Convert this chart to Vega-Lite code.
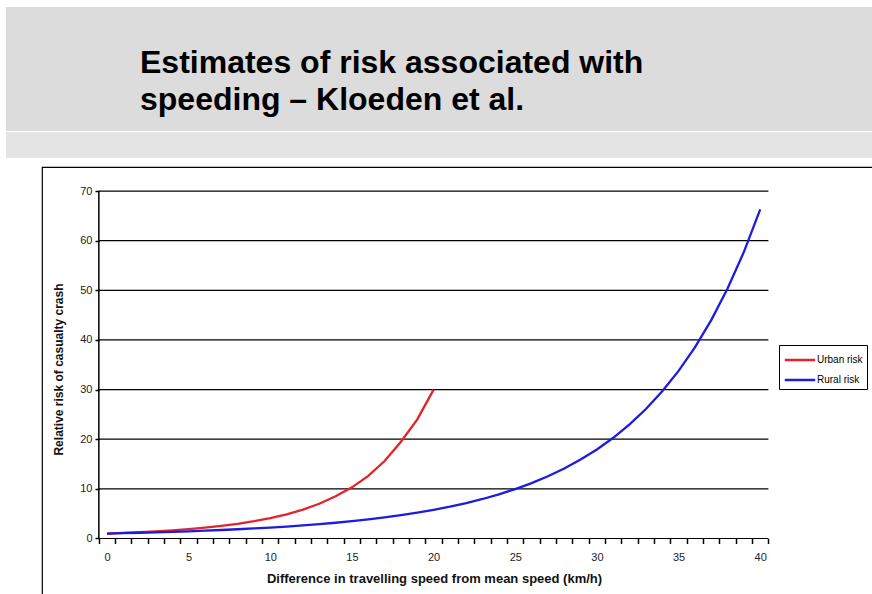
{
  "$schema": "https://vega.github.io/schema/vega-lite/v6.json",
  "padding": {"left": 6, "top": 7, "right": 0, "bottom": 0},
  "background": "white",
  "config": {"font": "Liberation Sans", "view": {"stroke": null}},
  "spacing": 8,
  "resolve": {"legend": {"color": "independent"}},
  "vconcat": [
    {
      "spacing": 1,
      "vconcat": [
        {
          "width": 866,
          "height": 124,
          "view": {"fill": "#dcdcdc", "stroke": null},
          "data": {"values": []},
          "mark": "point",
          "title": {
            "text": ["Estimates of risk associated with", "speeding – Kloeden et al."],
            "orient": "top",
            "anchor": "start",
            "frame": "group",
            "offset": -135,
            "dx": 134,
            "fontSize": 32,
            "fontWeight": "bold",
            "lineHeight": 37,
            "baseline": "alphabetic",
            "color": "#000000",
            "font": "Liberation Sans"
          }
        },
        {
          "width": 866,
          "height": 26,
          "view": {"fill": "#e4e4e4", "stroke": null},
          "data": {"values": []},
          "mark": "point"
        }
      ]
    },
    {
      "spacing": 0,
      "resolve": {"legend": {"color": "independent"}},
      "hconcat": [
        {
          "width": 35,
          "height": 10,
          "data": {"values": []},
          "mark": "point"
        },
        {
          "width": 835,
          "height": 440,
          "view": {"fill": "white", "stroke": "black", "strokeWidth": 1.2},
          "resolve": {"axis": {"x": "independent"}},
          "layer": [
            {
              "data": {"values": [{"v": 0}, {"v": 10}, {"v": 20}, {"v": 30}, {"v": 40}, {"v": 50}, {"v": 60}, {"v": 70}]},
              "mark": {"type": "rule", "color": "#000000", "strokeWidth": 1.2},
              "encoding": {
                "x": {
                  "datum": -0.5,
                  "type": "quantitative",
                  "scale": {"domain": [-3.98, 47.15], "nice": false, "zero": false},
                  "axis": {
                    "orient": "bottom",
                    "offset": -68.5,
                    "values": [-0.5, 0.5, 1.5, 2.5, 3.5, 4.5, 5.5, 6.5, 7.5, 8.5, 9.5, 10.5, 11.5, 12.5, 13.5, 14.5, 15.5, 16.5, 17.5, 18.5, 19.5, 20.5, 21.5, 22.5, 23.5, 24.5, 25.5, 26.5, 27.5, 28.5, 29.5, 30.5, 31.5, 32.5, 33.5, 34.5, 35.5, 36.5, 37.5, 38.5, 39.5, 40.5],
                    "labels": false,
                    "tickSize": 5,
                    "tickWidth": 1.5,
                    "tickColor": "#000000",
                    "domain": false,
                    "grid": false,
                    "title": null
                  }
                },
                "x2": {"datum": 40.5},
                "y": {"field": "v", "type": "quantitative", "scale": {"domain": [-13.8, 74.84], "nice": false, "zero": false}}
              }
            },
            {
              "data": {"values": [{}]},
              "mark": {"type": "rule", "color": "#000000", "strokeWidth": 1.5},
              "encoding": {
                "x": {"datum": -0.5, "type": "quantitative", "scale": {"domain": [-3.98, 47.15], "nice": false, "zero": false}, "axis": null},
                "y": {"datum": 0, "type": "quantitative", "scale": {"domain": [-13.8, 74.84], "nice": false, "zero": false}},
                "y2": {"datum": 70}
              }
            },
            {
              "data": {
                "values": [
                  {"series": "Urban risk", "speed": 0, "risk": 1},
                  {"series": "Urban risk", "speed": 1, "risk": 1.12},
                  {"series": "Urban risk", "speed": 2, "risk": 1.27},
                  {"series": "Urban risk", "speed": 3, "risk": 1.44},
                  {"series": "Urban risk", "speed": 4, "risk": 1.65},
                  {"series": "Urban risk", "speed": 5, "risk": 1.89},
                  {"series": "Urban risk", "speed": 6, "risk": 2.18},
                  {"series": "Urban risk", "speed": 7, "risk": 2.54},
                  {"series": "Urban risk", "speed": 8, "risk": 2.96},
                  {"series": "Urban risk", "speed": 9, "risk": 3.48},
                  {"series": "Urban risk", "speed": 10, "risk": 4.11},
                  {"series": "Urban risk", "speed": 11, "risk": 4.88},
                  {"series": "Urban risk", "speed": 12, "risk": 5.83},
                  {"series": "Urban risk", "speed": 13, "risk": 7.0},
                  {"series": "Urban risk", "speed": 14, "risk": 8.5},
                  {"series": "Urban risk", "speed": 15, "risk": 10.3},
                  {"series": "Urban risk", "speed": 16, "risk": 12.6},
                  {"series": "Urban risk", "speed": 17, "risk": 15.6},
                  {"series": "Urban risk", "speed": 18, "risk": 19.5},
                  {"series": "Urban risk", "speed": 19, "risk": 24.0},
                  {"series": "Urban risk", "speed": 20, "risk": 30.0},
                  {"series": "Rural risk", "speed": 0, "risk": 1},
                  {"series": "Rural risk", "speed": 1, "risk": 1.07},
                  {"series": "Rural risk", "speed": 2, "risk": 1.16},
                  {"series": "Rural risk", "speed": 3, "risk": 1.24},
                  {"series": "Rural risk", "speed": 4, "risk": 1.34},
                  {"series": "Rural risk", "speed": 5, "risk": 1.45},
                  {"series": "Rural risk", "speed": 6, "risk": 1.57},
                  {"series": "Rural risk", "speed": 7, "risk": 1.71},
                  {"series": "Rural risk", "speed": 8, "risk": 1.86},
                  {"series": "Rural risk", "speed": 9, "risk": 2.02},
                  {"series": "Rural risk", "speed": 10, "risk": 2.2},
                  {"series": "Rural risk", "speed": 11, "risk": 2.41},
                  {"series": "Rural risk", "speed": 12, "risk": 2.63},
                  {"series": "Rural risk", "speed": 13, "risk": 2.89},
                  {"series": "Rural risk", "speed": 14, "risk": 3.17},
                  {"series": "Rural risk", "speed": 15, "risk": 3.49},
                  {"series": "Rural risk", "speed": 16, "risk": 3.85},
                  {"series": "Rural risk", "speed": 17, "risk": 4.25},
                  {"series": "Rural risk", "speed": 18, "risk": 4.69},
                  {"series": "Rural risk", "speed": 19, "risk": 5.2},
                  {"series": "Rural risk", "speed": 20, "risk": 5.77},
                  {"series": "Rural risk", "speed": 21, "risk": 6.41},
                  {"series": "Rural risk", "speed": 22, "risk": 7.14},
                  {"series": "Rural risk", "speed": 23, "risk": 7.96},
                  {"series": "Rural risk", "speed": 24, "risk": 8.9},
                  {"series": "Rural risk", "speed": 25, "risk": 9.96},
                  {"series": "Rural risk", "speed": 26, "risk": 11.16},
                  {"series": "Rural risk", "speed": 27, "risk": 12.54},
                  {"series": "Rural risk", "speed": 28, "risk": 14.11},
                  {"series": "Rural risk", "speed": 29, "risk": 15.9},
                  {"series": "Rural risk", "speed": 30, "risk": 17.94},
                  {"series": "Rural risk", "speed": 31, "risk": 20.29},
                  {"series": "Rural risk", "speed": 32, "risk": 22.99},
                  {"series": "Rural risk", "speed": 33, "risk": 26.08},
                  {"series": "Rural risk", "speed": 34, "risk": 29.65},
                  {"series": "Rural risk", "speed": 35, "risk": 33.76},
                  {"series": "Rural risk", "speed": 36, "risk": 38.51},
                  {"series": "Rural risk", "speed": 37, "risk": 43.99},
                  {"series": "Rural risk", "speed": 38, "risk": 50.36},
                  {"series": "Rural risk", "speed": 39, "risk": 57.74},
                  {"series": "Rural risk", "speed": 40, "risk": 66.31}
                ]
              },
              "mark": {"type": "line", "strokeWidth": 2.3},
              "encoding": {
                "x": {
                  "field": "speed",
                  "type": "quantitative",
                  "scale": {"domain": [-3.98, 47.15], "nice": false, "zero": false},
                  "axis": {
                    "orient": "bottom",
                    "offset": -68.5,
                    "values": [0, 5, 10, 15, 20, 25, 30, 35, 40],
                    "ticks": false,
                    "tickSize": 0,
                    "labelOverlap": false,
                    "labelBound": false,
                    "labelFlush": false,
                    "domain": false,
                    "grid": false,
                    "labelFontSize": 11,
                    "labelColor": "#222222",
                    "labelPadding": 13,
                    "title": "Difference in travelling speed from mean speed (km/h)",
                    "titleFontSize": 13,
                    "titleFontWeight": "bold",
                    "titleColor": "#111111",
                    "titleX": 392,
                    "titleY": 39.5,
                    "titleAlign": "center",
                    "titleBaseline": "middle"
                  }
                },
                "y": {
                  "field": "risk",
                  "type": "quantitative",
                  "scale": {"domain": [-13.8, 74.84], "nice": false, "zero": false},
                  "axis": {
                    "orient": "left",
                    "offset": -57,
                    "values": [0, 10, 20, 30, 40, 50, 60, 70],
                    "tickSize": 4,
                    "tickWidth": 1.5,
                    "tickColor": "#000000",
                    "domain": false,
                    "grid": false,
                    "labelFontSize": 11,
                    "labelColor": "#222222",
                    "labelPadding": 3,
                    "title": "Relative risk of casualty crash",
                    "titleFontSize": 12,
                    "titleFontWeight": "bold",
                    "titleColor": "#111111",
                    "titleX": -41,
                    "titleY": 202,
                    "titleAngle": -90,
                    "titleAlign": "center",
                    "titleBaseline": "middle"
                  }
                },
                "color": {
                  "field": "series",
                  "type": "nominal",
                  "scale": {"domain": ["Urban risk", "Rural risk"], "range": ["#e3232b", "#1c1ce0"]},
                  "legend": {
                    "title": null,
                    "orient": "none",
                    "legendX": 737,
                    "legendY": 178,
                    "symbolType": "M-1.6,0H1.6",
                    "symbolSize": 361,
                    "symbolStrokeWidth": 2.5,
                    "symbolOffset": 6,
                    "labelFontSize": 10,
                    "labelColor": "#000000",
                    "strokeColor": "#000000",
                    "fillColor": "#ffffff",
                    "padding": 4,
                    "rowPadding": 4,
                    "labelOffset": 6
                  }
                }
              }
            }
          ]
        }
      ]
    }
  ]
}
